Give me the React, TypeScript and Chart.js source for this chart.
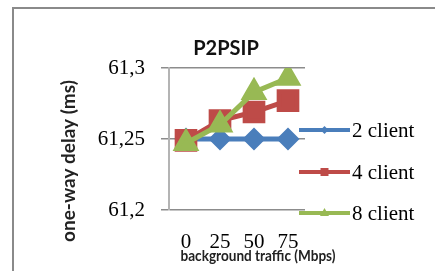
import React, { useEffect, useRef } from "react";
import { Chart, registerables } from "chart.js";

Chart.register(...registerables);

const categories = ["0", "25", "50", "75"];
const client2 = [61.25, 61.25, 61.25, 61.25];
const client4 = [61.249, 61.263, 61.269, 61.277];
const client8 = [61.247, 61.26, 61.283, 61.293];
const seriesNames = ["2 client", "4 client", "8 client"];
const yTicks = [61.2, 61.25, 61.3];
const chartTitle = "P2PSIP";
const yTitle = "one-way delay (ms)";
const xTitle = "background traffic (Mbps)";

const BLUE = "#4a7ebb";
const RED = "#be4b48";
const GREEN = "#98b954";

const legendAndTitles = {
  id: "legendAndTitles",
  afterDraw(chart: any) {
    const ctx = chart.ctx;
    ctx.save();
    // legend
    const ys = [130, 172, 213];
    chart.data.datasets.forEach((ds: any, i: number) => {
      const y = ys[i];
      ctx.strokeStyle = ds.borderColor;
      ctx.lineWidth = 4;
      ctx.beginPath();
      ctx.moveTo(299, y);
      ctx.lineTo(350, y);
      ctx.stroke();
      ctx.fillStyle = ds.borderColor;
      const cx = 324.5;
      ctx.beginPath();
      if (ds.pointStyle === "rectRot") {
        ctx.moveTo(cx - 4, y);
        ctx.lineTo(cx, y - 4);
        ctx.lineTo(cx + 4, y);
        ctx.lineTo(cx, y + 4);
      } else if (ds.pointStyle === "rect") {
        ctx.rect(cx - 4, y - 4, 8, 8);
      } else {
        ctx.moveTo(cx, y - 5);
        ctx.lineTo(cx + 4.5, y + 3);
        ctx.lineTo(cx - 4.5, y + 3);
      }
      ctx.closePath();
      ctx.fill();
      ctx.fillStyle = "#000";
      ctx.font = "21px 'Liberation Serif'";
      ctx.textAlign = "left";
      ctx.textBaseline = "middle";
      ctx.fillText(ds.label, 352, y + 1);
    });
    ctx.textAlign = "center";
    ctx.textBaseline = "middle";
    // chart title
    ctx.fillStyle = "#111";
    ctx.font = "bold 20px Lato";
    ctx.fillText(chartTitle, 226, 49);
    // y title
    ctx.fillStyle = "#222";
    ctx.font = "bold 19px Lato";
    ctx.save();
    ctx.translate(69, 161);
    ctx.rotate(-Math.PI / 2);
    ctx.fillText(yTitle, 0, 0);
    ctx.restore();
    // x title
    ctx.font = "bold 15px Lato";
    ctx.fillText(xTitle, 258, 256, 155);
    ctx.restore();
  },
};

export default function App() {
  const ref = useRef<HTMLCanvasElement>(null);
  useEffect(() => {
    if (!ref.current) return;
    const chart = new Chart(ref.current, {
      type: "line",
      data: {
        labels: categories,
        datasets: [
          { label: seriesNames[0], data: client2, order: 3, borderColor: BLUE, backgroundColor: BLUE, pointStyle: "rectRot", pointRadius: 8, borderWidth: 5 },
          { label: seriesNames[1], data: client4, order: 2, borderColor: RED, backgroundColor: RED, pointStyle: "rect", pointRadius: 12.5, borderWidth: 5 },
          { label: seriesNames[2], data: client8, order: 1, borderColor: GREEN, backgroundColor: GREEN, pointStyle: "triangle", pointRadius: 10.5, borderWidth: 5 },
        ] as any,
      },
      options: {
        responsive: false,
        animation: false,
        layout: { padding: { left: 0, right: 130, top: 68, bottom: 0 } },
        elements: { line: { tension: 0 }, point: { borderWidth: 0, hoverRadius: 8 } },
        plugins: {
          legend: { display: false },
          tooltip: { enabled: false },
          title: { display: false },
        },
        scales: {
          x: {
            type: "category",
            offset: true,
            grid: { display: false, drawTicks: false },
            border: { display: false },
            ticks: { color: "#000", font: { family: "Liberation Serif", size: 21 }, padding: 20, maxRotation: 0, autoSkip: false },
            afterFit(scale: any) { scale.height = 61; },
          },
          y: {
            min: 61.2,
            max: 61.3,
            afterBuildTicks(scale: any) { scale.ticks = yTicks.map((v) => ({ value: v })); },
            ticks: {
              color: "#000",
              font: { family: "Liberation Serif", size: 21 },
              padding: 16,
              callback: (v: any) => String(v).replace(".", ","),
            },
            grid: { color: "#8c8c8c", lineWidth: 1.5, tickLength: 8 },
            border: { display: true, color: "#b4b4b4", width: 2 },
            afterFit(scale: any) { scale.width = 169; },
          },
        },
      },
      plugins: [legendAndTitles],
    } as any);
    return () => chart.destroy();
  }, []);
  return (
    <div style={{ position: "fixed", left: 0, top: 0, width: 435, height: 271, background: "#fff", overflow: "hidden" }}>
      <div style={{ position: "absolute", left: 12, top: 7, width: 600, height: 400, borderLeft: "2px solid #8a8a8a", borderTop: "2px solid #8a8a8a" }} />
      <canvas ref={ref} width={435} height={271} style={{ position: "absolute", left: 0, top: 0 }} />
    </div>
  );
}
